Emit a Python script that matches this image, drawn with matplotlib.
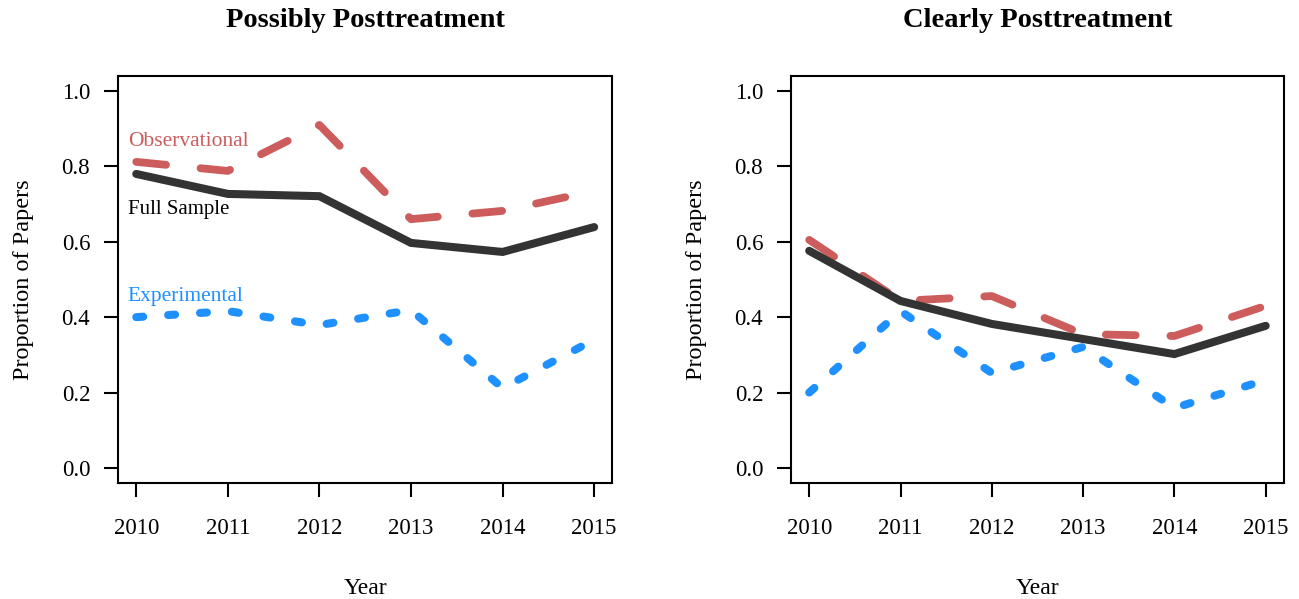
import matplotlib
matplotlib.use("Agg")
import matplotlib.pyplot as plt

plt.rcParams['font.family'] = ['Liberation Serif', 'DejaVu Serif']
plt.rcParams['lines.scale_dashes'] = False

years = [2010, 2011, 2012, 2013, 2014, 2015]

# proportion of papers, "possibly posttreatment"
possibly_obs = [0.812, 0.788, 0.910, 0.660, 0.682, 0.735]
possibly_full = [0.780, 0.727, 0.721, 0.597, 0.573, 0.639]
possibly_exp = [0.400, 0.416, 0.379, 0.419, 0.212, 0.340]

# proportion of papers, "clearly posttreatment"
clearly_obs = [0.605, 0.443, 0.456, 0.355, 0.350, 0.430]
clearly_full = [0.576, 0.443, 0.382, 0.342, 0.302, 0.377]
clearly_exp = [0.200, 0.416, 0.252, 0.321, 0.159, 0.233]

titles = ["Possibly Posttreatment", "Clearly Posttreatment"]
yticks = [0.0, 0.2, 0.4, 0.6, 0.8, 1.0]

red = "#CD5C5C"
blue = "#1E90FF"
dark = "#333333"

fig = plt.figure(figsize=(12.99, 5.99), dpi=100)
ax1 = fig.add_axes([0.0908, 0.1937, 0.3807, 0.6795])
ax2 = fig.add_axes([0.6089, 0.1937, 0.3795, 0.6795])

panels = [
    (ax1, possibly_obs, possibly_full, possibly_exp),
    (ax2, clearly_obs, clearly_full, clearly_exp),
]

for i, (ax, obs, full, exp) in enumerate(panels):
    ax.plot(years, obs, color=red, lw=5.6, dashes=(21.5, 25),
            dash_capstyle='round')
    ax.plot(years, full, color=dark, lw=5.8, solid_capstyle='round',
            solid_joinstyle='miter')
    ax.plot(years, exp, color=blue, lw=5.8, dashes=(5, 18),
            dash_capstyle='round')

    ax.set_xlim(2009.8, 2015.2)
    ax.set_ylim(-0.04, 1.04)
    ax.set_xticks(years)
    ax.set_xticklabels([str(y) for y in years])
    ax.set_yticks(yticks)
    ax.set_yticklabels(["%.1f" % t for t in yticks])
    ax.tick_params(direction='out', length=10, width=1.5, labelsize=16.5,
                   colors='black')
    ax.tick_params(axis='x', pad=15)
    ax.tick_params(axis='y', pad=10)
    for s in ax.spines.values():
        s.set_linewidth(1.5)

    ax.set_title(titles[i], fontsize=20.5, fontweight='bold', pad=35)
    ax.set_xlabel("Year", fontsize=17, labelpad=28)
    ax.set_ylabel("Proportion of Papers", fontsize=17.5, labelpad=20)

# series labels on the left panel
ax1.text(2009.907, 0.865, "Observational", color=red, fontsize=15.5,
         ha='left', va='center')
ax1.text(2009.907, 0.686, "Full Sample", color='black', fontsize=15,
         ha='left', va='center')
ax1.text(2009.907, 0.455, "Experimental", color=blue, fontsize=15.5,
         ha='left', va='center')

fig.savefig("out.png", dpi=100)
